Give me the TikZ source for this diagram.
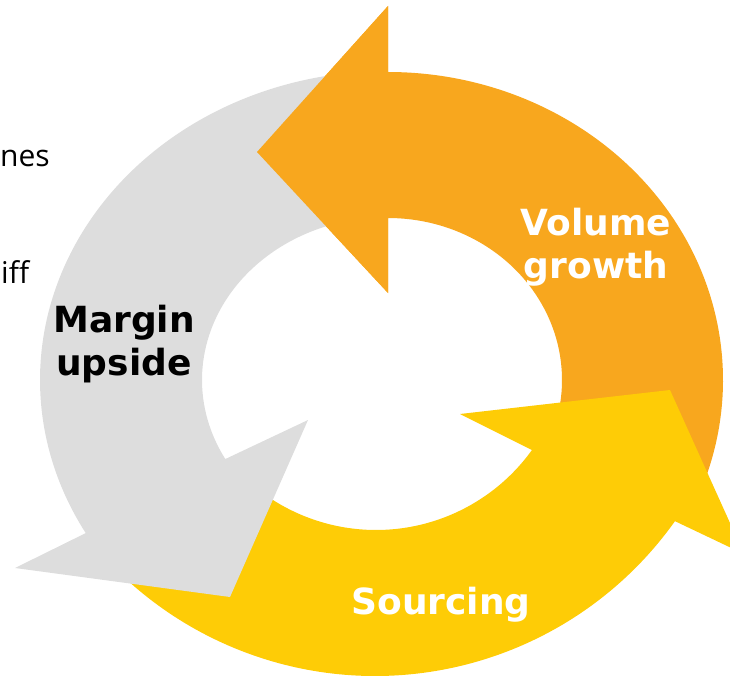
\documentclass[tikz,border=0pt]{standalone}
\usepackage{fontspec}
\setmainfont{DejaVu Sans}
\newfontfamily\notefont{Open Sans}
\usetikzlibrary{calc}
\definecolor{cyc-orange}{HTML}{F8A71E}
\definecolor{cyc-yellow}{HTML}{FECC06}
\definecolor{cyc-gray}{HTML}{DDDDDD}
\begin{document}
\begin{tikzpicture}[x=1pt,y=-1pt,line join=round,
		lbl/.style={font=\bfseries\fontsize{36}{43}\selectfont,align=center,inner sep=0pt},
		note/.style={font=\notefont\fontsize{30}{34}\selectfont,anchor=base west,inner sep=0pt}]
	\useasboundingbox (0,0) rectangle (730,676);
	\clip (0,0) rectangle (730,676);
	\coordinate (O) at (388,380);
	\coordinate (Y1) at (375,308);
	\coordinate (Y2) at (376,338);
	% volume growth
	\fill[cyc-orange] (257,152) -- (388,293) -- ($(O)+(-90:174 and 162)$)
		arc[start angle=-90,end angle=22,x radius=174,y radius=162]
		-- ($(O)+(22:335 and 308)$)
		arc[start angle=22,end angle=-90,x radius=335,y radius=308]
		-- (388,6) -- cycle;
	% sourcing
	\fill[cyc-yellow] ($(Y1)+(138:368)$) arc[start angle=138,end angle=35.4,radius=368]
		-- (744,554) -- (670,390) -- (460,414) -- ($(Y2)+(35.7:192)$)
		arc[start angle=35.7,end angle=138,radius=192] -- cycle;
	% margin upside
	\fill[cyc-gray] ($(O)+(-95:348 and 309)$)
		arc[start angle=-95,end angle=-209.7,x radius=348,y radius=309]
		-- (15,568) -- (230,597) -- (308,420) -- ($(O)+(-209:186 and 163)$)
		arc[start angle=-209,end angle=-95,x radius=186,y radius=163] -- cycle;
	% orange head again, over the gray tail
	\fill[cyc-orange] (257,152) -- (388,6) -- (388,293) -- cycle;
	\node[lbl,text=white] (volume) at (596,247) {Volume\\growth};
	\node[lbl] (margin) at (124,344) {Margin\\upside};
	\node[lbl,text=white,anchor=base] (sourcing) at (441,614) {Sourcing};
	\node[note] (nes) at (0,167) {nes};
	\node[note] (iff) at (1,283) {iff};
\end{tikzpicture}
\end{document}
